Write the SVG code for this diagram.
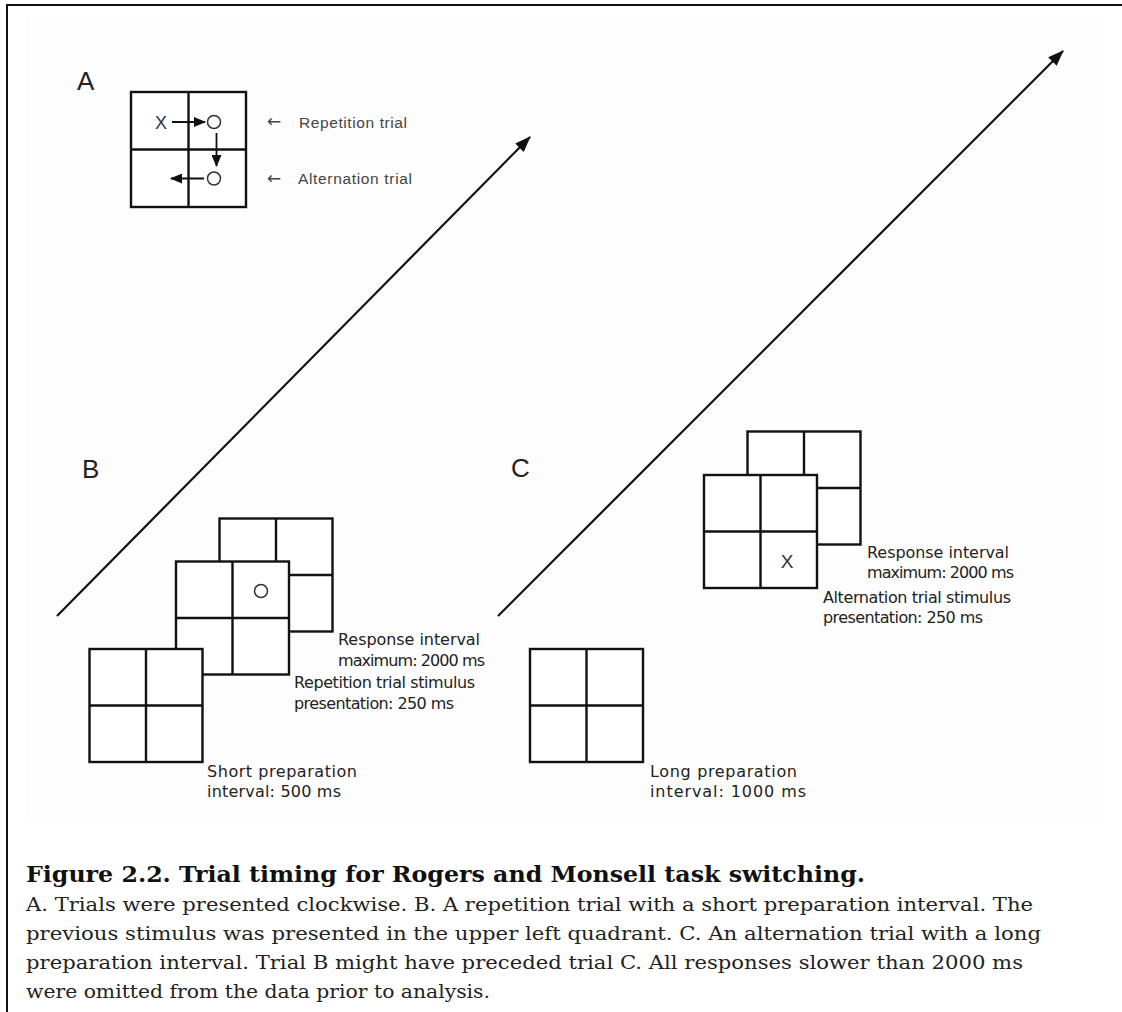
<svg xmlns="http://www.w3.org/2000/svg" xmlns:xlink="http://www.w3.org/1999/xlink" width="1122" height="1012" viewBox="0 0 1122 1012">
<style>
.frame{stroke:#111;stroke-width:2;fill:none}
.cell{fill:#fff;stroke:#111;stroke-width:2.4}
.gl{stroke:#111;stroke-width:2.4}
.lab{font-family:"Liberation Sans",Arial,sans-serif;font-size:26px;fill:#222}
.sm{font-family:"Liberation Sans",Arial,sans-serif;font-size:15.5px;fill:#444}
.arr{font-family:"DejaVu Sans",sans-serif;font-size:17px;fill:#444}
.sym{font-family:"Liberation Sans",Arial,sans-serif;fill:#333}
.note{font-family:"DejaVu Sans",Verdana,sans-serif;font-size:16px;fill:#222}
.cap{font-family:"DejaVu Serif","Liberation Serif",serif;font-size:21.5px;fill:#111;font-weight:bold}
.body{font-family:"DejaVu Serif","Liberation Serif",serif;font-size:19px;fill:#222}
.conn{stroke:#111;stroke-width:2.2;fill:none}
.thin{stroke:#111;stroke-width:1.8;fill:none}
.circ{fill:none;stroke:#333;stroke-width:1.5}
</style>
<defs>
<marker id="big" viewBox="0 0 16 12" markerWidth="16" markerHeight="12" refX="15" refY="6" orient="auto" markerUnits="userSpaceOnUse"><path d="M0,0 L16,6 L0,12 Z" fill="#111"/></marker>
<marker id="small" viewBox="0 0 12 10" markerWidth="12" markerHeight="10" refX="11" refY="5" orient="auto" markerUnits="userSpaceOnUse"><path d="M0,0 L12,5 L0,10 Z" fill="#111"/></marker>
<g id="grid"><rect class="cell" x="0" y="0" width="113" height="113"/><line class="gl" x1="56.5" y1="0" x2="56.5" y2="113"/><line class="gl" x1="0" y1="56.5" x2="113" y2="56.5"/></g>
</defs>
<rect x="0" y="0" width="1122" height="1012" fill="#fff"/>
<rect x="27" y="15" width="1076" height="803" fill="#fdfdfd"/>
<path class="frame" d="M7,1012 L7,5 L1122,5"/>

<g id="connectors">
<line class="conn" x1="57" y1="616" x2="530" y2="137" marker-end="url(#big)"/>
<line class="conn" x1="498" y1="616" x2="1063" y2="51" marker-end="url(#big)"/>
</g>

<g id="panelA">
<text class="lab" x="77" y="90">A</text>
<g id="gridA">
<rect class="cell" x="131" y="92" width="115" height="115"/>
<line class="gl" x1="188.5" y1="92" x2="188.5" y2="207"/>
<line class="gl" x1="131" y1="149.5" x2="246" y2="149.5"/>
</g>
<text class="sym" x="161" y="128.5" font-size="18" text-anchor="middle">X</text>
<circle class="circ" cx="214" cy="122" r="6.5"/>
<circle class="circ" cx="214" cy="178.5" r="6.5"/>
<g id="arrowsA">
<line class="thin" x1="172" y1="122" x2="205" y2="122" marker-end="url(#small)"/>
<line class="thin" x1="216.5" y1="133" x2="216.5" y2="166" marker-end="url(#small)"/>
<line class="thin" x1="204" y1="178.5" x2="171" y2="178.5" marker-end="url(#small)"/>
</g>
<text class="arr" x="267" y="127" textLength="13">←</text>
<text class="sm" x="299" y="127.5" textLength="108">Repetition trial</text>
<text class="arr" x="267" y="183.5" textLength="13">←</text>
<text class="sm" x="298" y="183.5" textLength="114">Alternation trial</text>
</g>

<g id="panelB">
<text class="lab" x="82" y="478">B</text>
<use xlink:href="#grid" x="219.5" y="518.5"/>
<use xlink:href="#grid" x="176" y="561.5"/>
<circle class="circ" cx="261" cy="591" r="6.5"/>
<use xlink:href="#grid" x="89.5" y="649"/>
<text class="note" x="338" y="645" textLength="142">Response interval</text>
<text class="note" x="338" y="665.5" textLength="147">maximum: 2000 ms</text>
<text class="note" x="294" y="688" textLength="181">Repetition trial stimulus</text>
<text class="note" x="294" y="708.5" textLength="160">presentation: 250 ms</text>
<text class="note" x="207" y="776.5" textLength="150">Short preparation</text>
<text class="note" x="207" y="797" textLength="134">interval: 500 ms</text>
</g>

<g id="panelC">
<text class="lab" x="511" y="477">C</text>
<use xlink:href="#grid" x="747.5" y="431.5"/>
<use xlink:href="#grid" x="704" y="475"/>
<text class="sym" x="787" y="568" font-size="19" text-anchor="middle">X</text>
<use xlink:href="#grid" x="530" y="649"/>
<text class="note" x="867" y="557.5" textLength="142">Response interval</text>
<text class="note" x="867" y="578" textLength="147">maximum: 2000 ms</text>
<text class="note" x="823" y="602.5" textLength="188">Alternation trial stimulus</text>
<text class="note" x="823" y="623" textLength="160">presentation: 250 ms</text>
<text class="note" x="650" y="776.5" textLength="147">Long preparation</text>
<text class="note" x="650" y="797" textLength="156">interval: 1000 ms</text>
</g>

<g id="caption">
<text class="cap" x="26" y="882" textLength="839" lengthAdjust="spacingAndGlyphs">Figure 2.2. Trial timing for Rogers and Monsell task switching.</text>
<text class="body" x="26" y="911" textLength="1007" lengthAdjust="spacingAndGlyphs">A. Trials were presented clockwise. B. A repetition trial with a short preparation interval. The</text>
<text class="body" x="26" y="940" textLength="1015" lengthAdjust="spacingAndGlyphs">previous stimulus was presented in the upper left quadrant. C. An alternation trial with a long</text>
<text class="body" x="26" y="969" textLength="997" lengthAdjust="spacingAndGlyphs">preparation interval. Trial B might have preceded trial C. All responses slower than 2000 ms</text>
<text class="body" x="26" y="998" textLength="464" lengthAdjust="spacingAndGlyphs">were omitted from the data prior to analysis.</text>
</g>
</svg>
